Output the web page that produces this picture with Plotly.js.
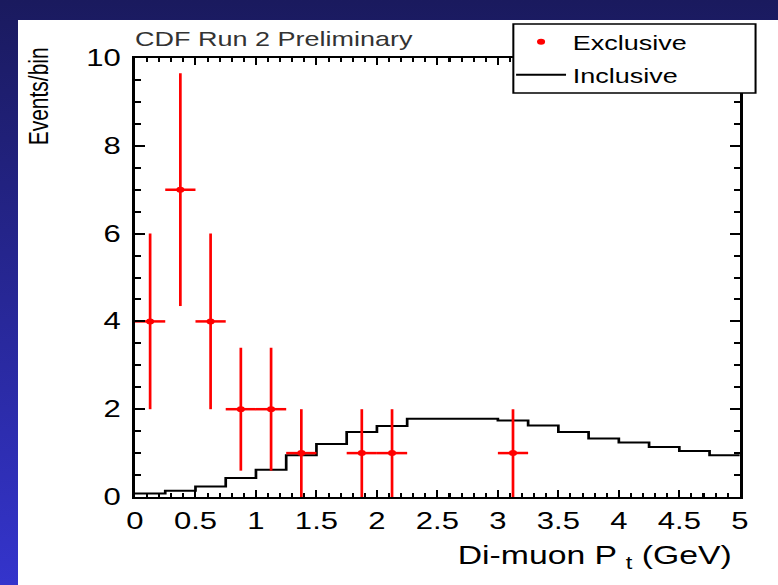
<!DOCTYPE html>
<html><head><meta charset="utf-8">
<script src="https://cdn.plot.ly/plotly-3.0.1.min.js"></script>
<style>
html,body{margin:0;padding:0;width:778px;height:585px;overflow:hidden;}
body{background:linear-gradient(to bottom,#1a1a5e 0%,#28289a 55%,#3434cc 100%);position:relative;}
#panel{position:absolute;left:18px;top:20px;width:760px;height:565px;background:#fff;}
#chart{position:absolute;left:0;top:0;width:577px;height:585px;transform:scaleX(1.35);transform-origin:0 0;}
</style></head><body>
<div id="panel"></div><div id="chart"></div>
<script>
// Exclusive data points (bin centres, counts, errors)
const excX = [0.125, 0.375, 0.625, 0.875, 1.125, 1.375, 1.875, 2.125, 3.125];
const excY = [4, 7, 4, 2, 2, 1, 1, 1, 1];
const excErrY = [2.0, 2.65, 2.0, 1.4, 1.4, 1.0, 1.0, 1.0, 1.0];
const excErrX = [0.125, 0.125, 0.125, 0.125, 0.125, 0.125, 0.125, 0.125, 0.125];
// Inclusive histogram (bin edges and contents)
const incEdges = [0, 0.25, 0.5, 0.75, 1.0, 1.25, 1.5, 1.75, 2.0, 2.25, 2.5, 2.75, 3.0, 3.25, 3.5, 3.75, 4.0, 4.25, 4.5, 4.75, 5.0];
const incY = [0.08, 0.14, 0.24, 0.43, 0.62, 0.95, 1.21, 1.48, 1.62, 1.78, 1.78, 1.78, 1.74, 1.63, 1.48, 1.33, 1.24, 1.14, 1.05, 0.95];
// Tick labels
const xTickVals = [0, 0.5, 1, 1.5, 2, 2.5, 3, 3.5, 4, 4.5, 5];
const xTickText = ['0', '0.5', '1', '1.5', '2', '2.5', '3', '3.5', '4', '4.5', '5'];
const yTickVals = [0, 2, 4, 6, 8, 10];
const yTickText = ['0', '2', '4', '6', '8', '10'];

const incStepY = incY.concat([incY[incY.length - 1]]);

const traces = [
  {
    type: 'scatter', mode: 'lines', name: 'Inclusive',
    x: incEdges, y: incStepY,
    line: {shape: 'hv', color: '#000', width: 2},
    legendgroup: 'b', legendrank: 2
  },
  {
    type: 'scatter', mode: 'markers', name: 'Exclusive',
    x: excX, y: excY,
    marker: {color: '#ff0000', size: 6, symbol: 'circle'},
    error_y: {type: 'data', array: excErrY, symmetric: true, color: '#ff0000', thickness: 2, width: 0},
    error_x: {type: 'data', array: excErrX, symmetric: true, color: '#ff0000', thickness: 2.5, width: 0},
    legendgroup: 'a', legendrank: 1
  }
];

const plotL = 100, plotR = 547.6, plotT = 58, plotB = 497;
const W = 577, H = 585, S = 1.35;
const px = p => (p / S - plotL) / (plotR - plotL);   // page x -> paper x
const py = p => (plotB - p) / (plotB - plotT);        // page y -> paper y

const axisCommon = {
  ticks: 'inside', tickcolor: '#000', showline: true, linecolor: '#000', linewidth: 2,
  mirror: 'ticks', showgrid: false, zeroline: false, fixedrange: true,
  tickfont: {size: 23, color: '#000'}
};

const layout = {
  width: W, height: H,
  margin: {l: plotL, r: W - plotR, t: plotT, b: H - plotB, autoexpand: false},
  paper_bgcolor: 'rgba(0,0,0,0)', plot_bgcolor: '#ffffff',
  font: {family: '"Liberation Sans", Arial, Helvetica, sans-serif', color: '#000'},
  title: {text: 'CDF Run 2 Preliminary', x: 0, xref: 'paper', xanchor: 'left',
          y: 1 - 39 / H, yref: 'container', yanchor: 'middle', font: {size: 20, color: '#333'}},
  xaxis: Object.assign({}, axisCommon, {
    range: [0, 5], tickmode: 'array', tickvals: xTickVals, ticktext: xTickText,
    ticklen: 7, tickwidth: 1.5, ticklabelstandoff: 2,
    minor: {dtick: 0.1, ticks: 'inside', ticklen: 4, tickwidth: 1.5, tickcolor: '#000', showgrid: false}
  }),
  yaxis: Object.assign({}, axisCommon, {
    range: [0, 10], tickmode: 'array', tickvals: yTickVals, ticktext: yTickText,
    ticklen: 7.4, tickwidth: 2, ticklabelstandoff: 4,
    minor: {dtick: 0.5, ticks: 'inside', ticklen: 4.4, tickwidth: 2, tickcolor: '#000', showgrid: false}
  }),
  showlegend: true,
  legend: {x: px(509), xanchor: 'left', y: py(22.2), yanchor: 'top',
           bgcolor: 'rgba(0,0,0,0)', borderwidth: 0, itemwidth: 37,
           font: {size: 20, color: '#000'}, traceorder: 'grouped', tracegroupgap: 4},
  shapes: [{type: 'rect', xref: 'paper', yref: 'paper',
            x0: px(513), x1: px(755), y0: py(93), y1: py(24),
            fillcolor: '#ffffff', line: {color: '#000', width: 1.5}, layer: 'above'}],
  annotations: [
    {text: 'Events/bin', xref: 'paper', yref: 'paper', x: px(37), y: py(96),
     xanchor: 'center', yanchor: 'middle', textangle: -90, showarrow: false,
     font: {size: 21, color: '#000'}},
    {text: 'Di-muon P <sub>t</sub> (GeV)', xref: 'paper', yref: 'paper', x: px(734), y: py(557),
     xanchor: 'right', yanchor: 'middle', showarrow: false, font: {size: 25, color: '#000'}}
  ]
};

Plotly.newPlot('chart', traces, layout, {displayModeBar: false, staticPlot: true});
</script>
</body></html>
